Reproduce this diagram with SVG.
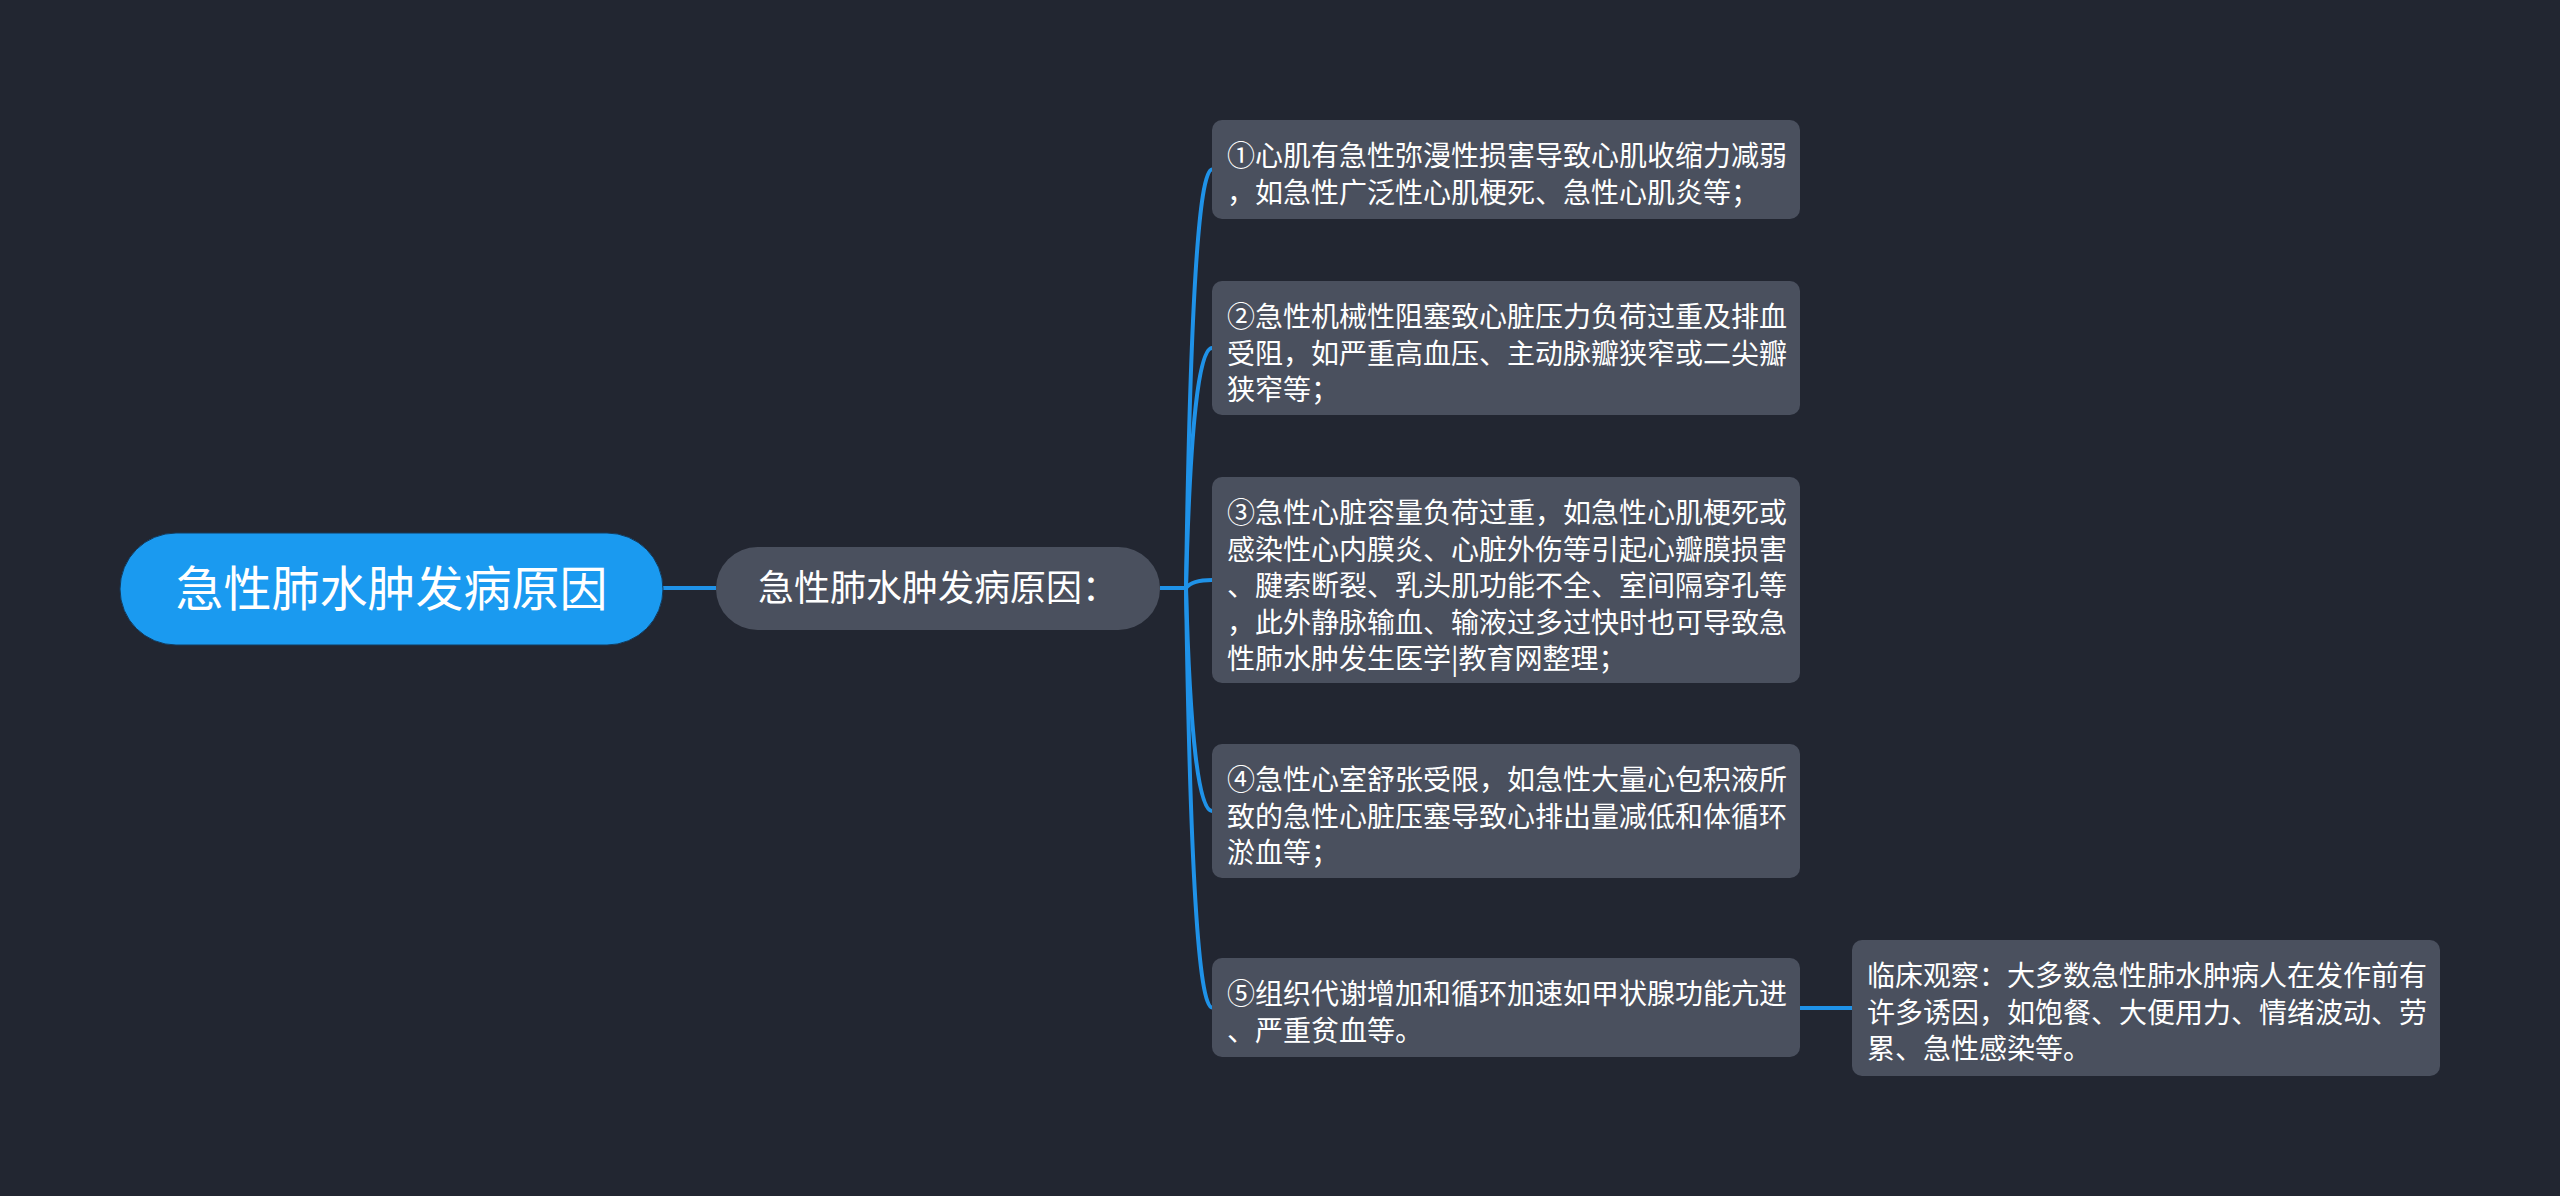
<svg xmlns="http://www.w3.org/2000/svg" width="2560" height="1196" viewBox="0 0 2560 1196">
<style>
text{font-family:"Noto Sans CJK SC","Noto Sans",sans-serif;fill:#ffffff}
.leaf rect{fill:#4a505e}
.leaf text{font-size:28px}
.conn{fill:none;stroke:#1f92e8;stroke-width:4}
</style>
<rect x="0" y="0" width="2560" height="1196" fill="#222631"/>
<g id="connectors" class="conn">
<path d="M663 588H716"/>
<path d="M1160 588H1186"/>
<path d="M1186 588Q1192 169.5 1212 169.5"/>
<path d="M1186 588Q1192 348 1212 348"/>
<path d="M1186 588Q1192 580 1212 580"/>
<path d="M1186 588Q1192 811 1212 811"/>
<path d="M1186 588Q1192 1007.5 1212 1007.5"/>
<path d="M1800 1008H1852"/>
</g>
<g id="root">
<rect x="120" y="533" width="543" height="112" rx="56" fill="#1a9af0" stroke="#143a5c" stroke-width="1"/>
<text x="391.5" y="606" font-size="48" text-anchor="middle">急性肺水肿发病原因</text>
</g>
<g id="sub">
<rect x="716" y="547" width="444" height="83" rx="41.5" fill="#4a505e"/>
<text x="938" y="601" font-size="36" text-anchor="middle">急性肺水肿发病原因：</text>
</g>
<g id="leaf1" class="leaf">
<rect x="1212" y="120" width="588" height="99" rx="10"/>
<text x="1227" y="166">①心肌有急性弥漫性损害导致心肌收缩力减弱</text>
<text x="1227" y="202.5">，如急性广泛性心肌梗死、急性心肌炎等；</text>
</g>
<g id="leaf2" class="leaf">
<rect x="1212" y="281" width="588" height="134" rx="10"/>
<text x="1227" y="327">②急性机械性阻塞致心脏压力负荷过重及排血</text>
<text x="1227" y="363.5">受阻，如严重高血压、主动脉瓣狭窄或二尖瓣</text>
<text x="1227" y="400">狭窄等；</text>
</g>
<g id="leaf3" class="leaf">
<rect x="1212" y="477" width="588" height="206" rx="10"/>
<text x="1227" y="523">③急性心脏容量负荷过重，如急性心肌梗死或</text>
<text x="1227" y="559.5">感染性心内膜炎、心脏外伤等引起心瓣膜损害</text>
<text x="1227" y="596">、腱索断裂、乳头肌功能不全、室间隔穿孔等</text>
<text x="1227" y="632.5">，此外静脉输血、输液过多过快时也可导致急</text>
<text x="1227" y="669">性肺水肿发生医学|教育网整理；</text>
</g>
<g id="leaf4" class="leaf">
<rect x="1212" y="744" width="588" height="134" rx="10"/>
<text x="1227" y="790">④急性心室舒张受限，如急性大量心包积液所</text>
<text x="1227" y="826.5">致的急性心脏压塞导致心排出量减低和体循环</text>
<text x="1227" y="863">淤血等；</text>
</g>
<g id="leaf5" class="leaf">
<rect x="1212" y="958" width="588" height="99" rx="10"/>
<text x="1227" y="1004">⑤组织代谢增加和循环加速如甲状腺功能亢进</text>
<text x="1227" y="1040.5">、严重贫血等。</text>
</g>
<g id="clinical" class="leaf">
<rect x="1852" y="940" width="588" height="136" rx="10"/>
<text x="1867" y="986">临床观察：大多数急性肺水肿病人在发作前有</text>
<text x="1867" y="1022.5">许多诱因，如饱餐、大便用力、情绪波动、劳</text>
<text x="1867" y="1059">累、急性感染等。</text>
</g>
</svg>
